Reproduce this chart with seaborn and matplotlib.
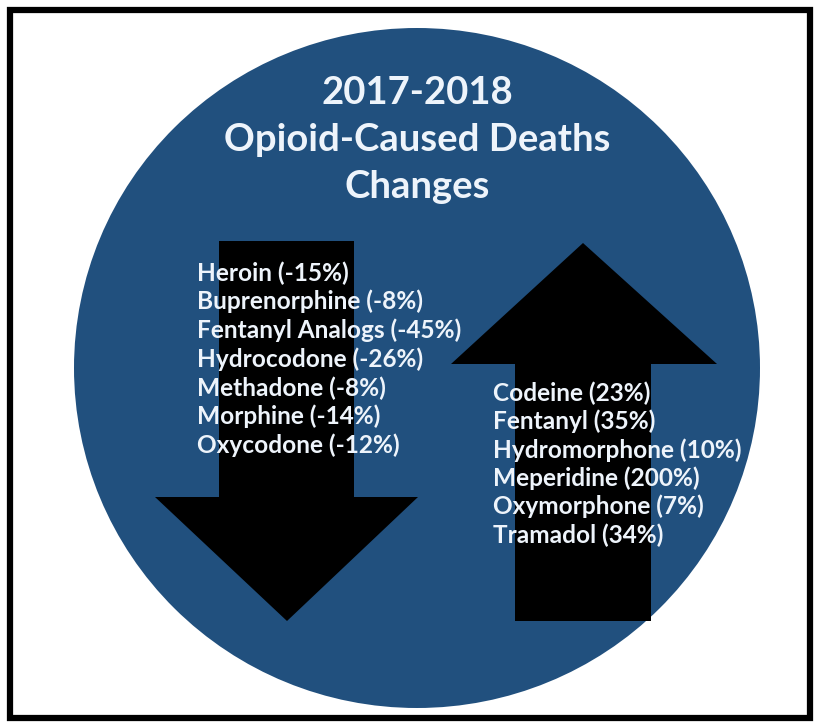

import numpy as np
import seaborn as sns
from matplotlib import pyplot as plt
from matplotlib.patches import Ellipse, Polygon, Rectangle

sns.set_theme(style='white')
plt.rcParams['font.family'] = ['Lato', 'DejaVu Sans']

# data
title_lines = ['2017-2018', 'Opioid-Caused Deaths', 'Changes']
down_drugs = ['Heroin', 'Buprenorphine', 'Fentanyl Analogs', 'Hydrocodone',
              'Methadone', 'Morphine', 'Oxycodone']
down_pct = [-15, -8, -45, -26, -8, -14, -12]
up_drugs = ['Codeine', 'Fentanyl', 'Hydromorphone', 'Meperidine',
            'Oxymorphone', 'Tramadol']
up_pct = [23, 35, 10, 200, 7, 34]

circle_col = '#21507e'
text_col = '#eef4fb'

fig = plt.figure(figsize=(8.15, 7.26), dpi=100)
ax = fig.add_axes([0, 0, 1, 1])
ax.set_xlim(0, 815)
ax.set_ylim(726, 0)
ax.axis('off')

# frame
ax.add_patch(Rectangle((10, 10), 800, 708, fill=False, ec='black', lw=4.5))

# circle
ax.add_patch(Ellipse((417, 368), 686, 680, fc=circle_col, ec='none'))

# down arrow
ax.add_patch(Polygon([(219, 241), (354, 241), (354, 497), (418, 497),
                      (287, 621), (155, 497), (219, 497)],
                     closed=True, fc='black', ec='none'))
# up arrow
ax.add_patch(Polygon([(583, 243), (717, 364), (651, 364), (651, 621),
                      (515, 621), (515, 364), (451, 364)],
                     closed=True, fc='black', ec='none'))

# title
for i, line in enumerate(title_lines):
    ax.text(417, 93 + i * 47, line, ha='center', va='center',
            fontsize=27.5, fontweight='bold', color=text_col)

# lists
for i, (d, p) in enumerate(zip(down_drugs, down_pct)):
    ax.text(197, 273 + i * 28.7, f'{d} ({p}%)', ha='left', va='center',
            fontsize=17.6, fontweight='bold', color=text_col)
for i, (d, p) in enumerate(zip(up_drugs, up_pct)):
    ax.text(493, 393 + i * 28.4, f'{d} ({p}%)', ha='left', va='center',
            fontsize=17.6, fontweight='bold', color=text_col)

plt.savefig('out.png', dpi=100)
